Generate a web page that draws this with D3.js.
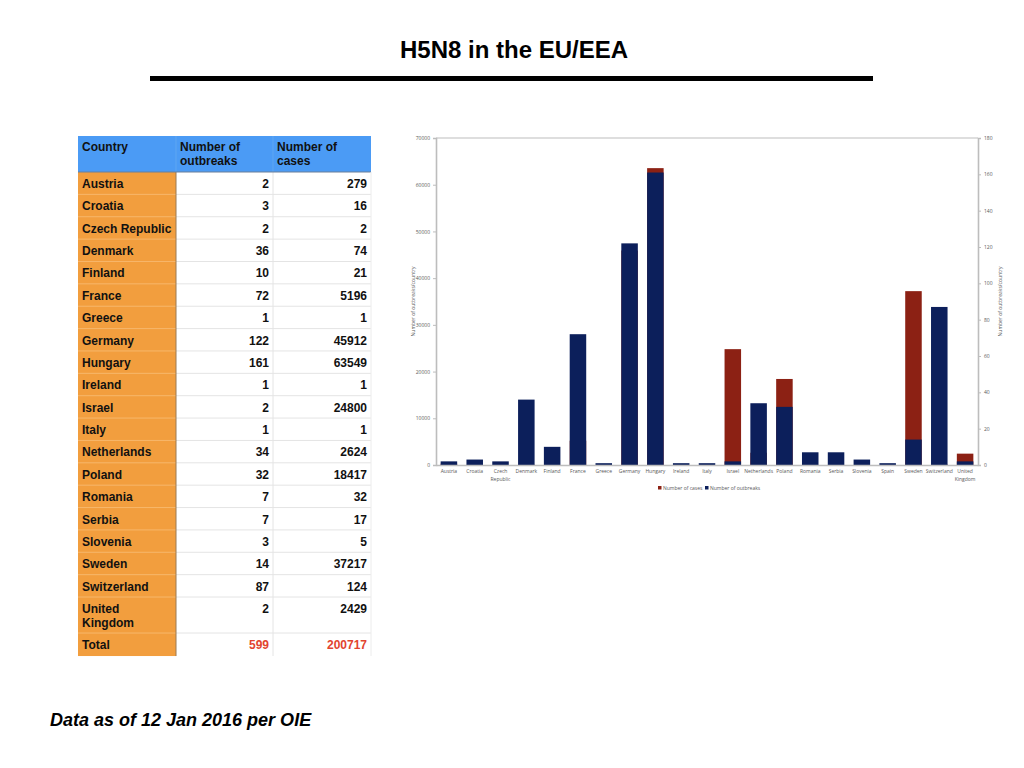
<!DOCTYPE html>
<html><head><meta charset="utf-8">
<script src="https://cdn.jsdelivr.net/npm/d3@7/dist/d3.min.js"></script>
<style>html,body{margin:0;padding:0;background:#fff;}svg{display:block;}</style>
</head><body>
<script>
// ---- Table data ----
const tableCountries = ["Austria","Croatia","Czech Republic","Denmark","Finland","France","Greece","Germany","Hungary","Ireland","Israel","Italy","Netherlands","Poland","Romania","Serbia","Slovenia","Sweden","Switzerland","United Kingdom"];
const tableOutbreaks = [2,3,2,36,10,72,1,122,161,1,2,1,34,32,7,7,3,14,87,2];
const tableCases = [279,16,2,74,21,5196,1,45912,63549,1,24800,1,2624,18417,32,17,5,37217,124,2429];
const totalOutbreaks = 599;
const totalCases = 200717;

// ---- Chart data ----
const chartCountries = ["Austria","Croatia","Czech Republic","Denmark","Finland","France","Greece","Germany","Hungary","Ireland","Italy","Israel","Netherlands","Poland","Romania","Serbia","Slovenia","Spain","Sweden","Switzerland","United Kingdom"];
const chartCases = [279,16,2,74,21,5196,1,45912,63549,1,1,24800,2624,18417,32,17,5,1,37217,124,2429];
const chartOutbreaks = [2,3,2,36,10,72,1,122,161,1,1,2,34,32,7,7,3,1,14,87,2];
const leftTicks = [0,10000,20000,30000,40000,50000,60000,70000];
const rightTicks = [0,20,40,60,80,100,120,140,160,180];

const W=1024,H=768;
const svg=d3.select("body").append("svg").attr("width",W).attr("height",H);
const F="'Liberation Sans', Arial, Helvetica, sans-serif";

// Title
svg.append("text").attr("x",514).attr("y",58).attr("text-anchor","middle")
  .attr("font-family",F).attr("font-weight","bold").attr("font-size",24).attr("fill","#000").text("H5N8 in the EU/EEA");
svg.append("rect").attr("x",150).attr("y",76).attr("width",723).attr("height",5).attr("fill","#000");

// Footnote
svg.append("text").attr("x",50).attr("y",726).attr("font-family",F).attr("font-weight","bold")
  .attr("font-style","italic").attr("font-size",18).attr("fill","#000").text("Data as of 12 Jan 2016 per OIE");

// ---- Table ----
const tX=78, cW=[98,97,98], hTop=136, hBot=172, rowH=22.37;
const tbl=svg.append("g");
const colX=[tX,tX+cW[0],tX+cW[0]+cW[1],tX+cW[0]+cW[1]+cW[2]];
const rows=[];
let y=hBot;
tableCountries.forEach((c,i)=>{
  const h = c==="United Kingdom"?36:rowH;
  rows.push({c,o:tableOutbreaks[i],v:tableCases[i],y,h,total:false});
  y+=h;
});
rows.push({c:"Total",o:totalOutbreaks,v:totalCases,y,h:23,total:true});
const tBot=y+23;
tbl.append("rect").attr("x",tX).attr("y",hTop).attr("width",colX[3]-tX).attr("height",hBot-hTop).attr("fill","#4b9bf5");
tbl.append("rect").attr("x",tX).attr("y",hBot).attr("width",cW[0]).attr("height",tBot-hBot).attr("fill","#f29e3e");
tbl.append("rect").attr("x",colX[1]).attr("y",hBot).attr("width",colX[3]-colX[1]).attr("height",tBot-hBot).attr("fill","#fff");
rows.forEach((r,i)=>{ if(i>0){
  tbl.append("line").attr("x1",tX).attr("x2",colX[1]).attr("y1",r.y).attr("y2",r.y).attr("stroke","#f7b76b").attr("stroke-width",1);
  tbl.append("line").attr("x1",colX[1]).attr("x2",colX[3]).attr("y1",r.y).attr("y2",r.y).attr("stroke","#e4e4e4").attr("stroke-width",1);
}});
tbl.append("line").attr("x1",colX[2]).attr("x2",colX[2]).attr("y1",hBot).attr("y2",tBot).attr("stroke","#e4e4e4");
tbl.append("line").attr("x1",colX[1]).attr("x2",colX[1]).attr("y1",hTop).attr("y2",hBot).attr("stroke","#5ea6f2").attr("stroke-width",1);
tbl.append("line").attr("x1",colX[2]).attr("x2",colX[2]).attr("y1",hTop).attr("y2",hBot).attr("stroke","#5ea6f2").attr("stroke-width",1);
tbl.append("line").attr("x1",colX[1]).attr("x2",colX[1]).attr("y1",hBot).attr("y2",tBot).attr("stroke","#9a7a55").attr("stroke-width",1);
tbl.append("line").attr("x1",tX).attr("x2",colX[3]).attr("y1",hBot).attr("y2",hBot).attr("stroke","#6b7f99").attr("stroke-width",1);
tbl.append("line").attr("x1",colX[3]).attr("x2",colX[3]).attr("y1",hBot).attr("y2",tBot).attr("stroke","#ececec");

const tf=(sel)=>sel.attr("font-family",F).attr("font-weight","bold").attr("font-size",12).attr("fill","#111");
const hdr=[["Country"],["Number of","outbreaks"],["Number of","cases"]];
hdr.forEach((lines,j)=>{
  lines.forEach((t,k)=>{
    tf(tbl.append("text")).attr("x",colX[j]+4).attr("y",151+k*14).text(t);
  });
});
rows.forEach(r=>{
  const base=r.y+16;
  const nameLines = r.c==="United Kingdom"?["United","Kingdom"]:[r.c];
  nameLines.forEach((t,k)=>tf(tbl.append("text")).attr("x",tX+4).attr("y",base+k*14).text(t));
  tf(tbl.append("text")).attr("x",colX[2]-4).attr("y",base).attr("text-anchor","end")
    .attr("fill",r.total?"#e2442f":"#111").text(r.o);
  tf(tbl.append("text")).attr("x",colX[3]-4).attr("y",base).attr("text-anchor","end")
    .attr("fill",r.total?"#e2442f":"#111").text(r.v);
});

// ---- Chart ----
const pL=436,pR=978,pT=138,pB=465;
const x=d3.scaleBand().domain(chartCountries).range([pL,pR]).paddingInner(0.36).paddingOuter(0.18);
const yL=d3.scaleLinear().domain([0,70000]).range([pB,pT]);
const yR=d3.scaleLinear().domain([0,180]).range([pB,pT]);
const CF="'Open Sans', 'Liberation Sans', sans-serif";
const gray="#595959", axisC="#bdbdbd";
const RED="#8c2114", BLUE="#0c1f5b";

const ch=svg.append("g");
ch.selectAll("rect.cases").data(chartCountries).join("rect").attr("class","cases")
  .attr("x",d=>x(d)).attr("width",x.bandwidth())
  .attr("y",(d,i)=>yL(chartCases[i])).attr("height",(d,i)=>pB-yL(chartCases[i]))
  .attr("fill",RED);
ch.selectAll("rect.ob").data(chartCountries).join("rect").attr("class","ob")
  .attr("x",d=>x(d)).attr("width",x.bandwidth())
  .attr("y",(d,i)=>yR(chartOutbreaks[i])).attr("height",(d,i)=>pB-yR(chartOutbreaks[i]))
  .attr("fill",BLUE);

ch.append("line").attr("x1",pL).attr("x2",pR).attr("y1",pT).attr("y2",pT).attr("stroke",axisC).attr("stroke-width",1.2);
const la=ch.append("g").attr("transform",`translate(${pL},0)`).call(d3.axisLeft(yL).tickValues(leftTicks).tickSize(3).tickFormat(d3.format("d")));
const ra=ch.append("g").attr("transform",`translate(${pR},0)`).call(d3.axisRight(yR).tickValues(rightTicks).tickSize(3).tickFormat(d3.format("d")));
const ba=ch.append("g").attr("transform",`translate(0,${pB})`).call(d3.axisBottom(x).tickSize(0).tickFormat(""));
[la,ra,ba].forEach(a=>{
  a.selectAll("path.domain").attr("stroke",axisC).attr("stroke-width",1.6);
  a.selectAll(".tick line").attr("stroke",axisC);
  a.selectAll("text").attr("font-family",CF).attr("font-size",5).attr("fill",gray);
});
chartCountries.forEach(c=>{
  const parts = c==="Czech Republic"?["Czech","Republic"]:c==="United Kingdom"?["United","Kingdom"]:[c];
  parts.forEach((p,k)=>{
    ch.append("text").attr("x",x(c)+x.bandwidth()/2).attr("y",pB+8+k*8).attr("text-anchor","middle")
      .attr("font-family",CF).attr("font-size",5).attr("fill",gray).text(p);
  });
});
ch.append("text").attr("transform",`translate(415,${(pT+pB)/2}) rotate(-90)`).attr("text-anchor","middle")
  .attr("font-family",CF).attr("font-size",5).attr("fill",gray).text("Number of outbreaks/country");
ch.append("text").attr("transform",`translate(1002,${(pT+pB)/2}) rotate(-90)`).attr("text-anchor","middle")
  .attr("font-family",CF).attr("font-size",5).attr("fill",gray).text("Number of outbreaks/country");
const leg=[{t:"Number of cases",c:RED,x:658},{t:"Number of outbreaks",c:BLUE,x:705}];
leg.forEach(l=>{
  ch.append("rect").attr("x",l.x).attr("y",486).attr("width",3.5).attr("height",3.5).attr("fill",l.c);
  ch.append("text").attr("x",l.x+5).attr("y",489.5).attr("font-family",CF).attr("font-size",5).attr("fill",gray).text(l.t);
});
</script>
</body></html>
